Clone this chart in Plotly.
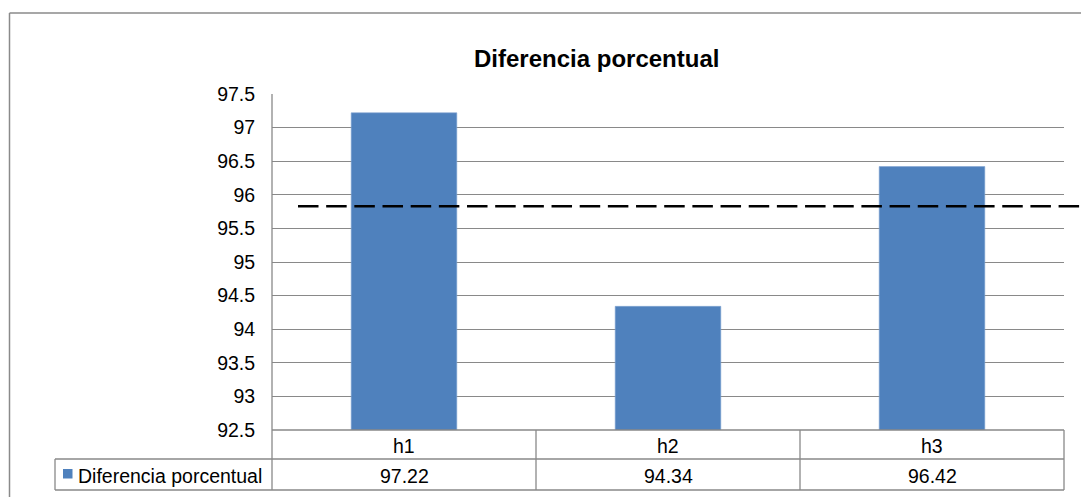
import plotly.graph_objects as go

# --- data ---
categorias = ["h1", "h2", "h3"]
diferencia = [97.22, 94.34, 96.42]
serie = "Diferencia porcentual"
umbral = 95.83
y_ticks = [92.5, 93, 93.5, 94, 94.5, 95, 95.5, 96, 96.5, 97, 97.5]

# --- geometry (pixels in a 1081x497 canvas) ---
W, H = 1081, 497
PL, PR, PT, PB = 272, 1064, 94, 430
ROW1_B, ROW2_B = 459, 490
LEG_L = 55
GRID = "#898989"
BLUE = "#4F81BD"
FONT = "Liberation Sans, Arial, sans-serif"
FS = 19.5


def px(x):
    return (x - PL) / (PR - PL)


def py(y):
    return (PB - y) / (PB - PT)


n = len(categorias)

fig = go.Figure()
fig.add_trace(go.Bar(
    x=list(range(n)), y=diferencia, width=0.4,
    marker=dict(color=BLUE, line=dict(color="#7FA3D1", width=0.6)),
    name=serie, showlegend=False, hoverinfo="x+y",
))

shapes = []


def line(x0, y0, x1, y1, color=GRID, width=1.3):
    shapes.append(dict(type="line", xref="paper", yref="paper",
                       x0=px(x0), y0=py(y0), x1=px(x1), y1=py(y1),
                       line=dict(color=color, width=width), layer="above"))


# outer chart frame (left and top edges)
line(9.5, 13, 9.5, 520, color="#8a8a8a", width=1.5)
line(9.5, 13, 1100, 13, color="#8a8a8a", width=1.5)

# data table below the plot
line(PL, PB, PR, PB)
line(LEG_L, ROW1_B, PR, ROW1_B)
line(LEG_L, ROW2_B, PR, ROW2_B)
line(LEG_L, ROW1_B, LEG_L, ROW2_B)
line(PL, PT, PL, ROW2_B)
for i in range(1, n + 1):
    shapes.append(dict(type="line", xref="paper", yref="paper",
                       x0=i / n, x1=i / n, y0=py(PB), y1=py(ROW2_B),
                       line=dict(color=GRID, width=1.3), layer="above"))

# legend key inside the table
shapes.append(dict(type="rect", xref="paper", yref="paper",
                   x0=px(63), x1=px(72.5), y0=py(469), y1=py(478.5),
                   fillcolor=BLUE, line=dict(width=0), layer="above"))

# dashed reference level
shapes.append(dict(type="line", xref="paper", yref="y",
                   x0=px(298), x1=px(1095), y0=umbral, y1=umbral,
                   line=dict(color="black", width=2.5, dash="20.5px,7.67px"),
                   layer="above"))

annotations = []
for i, (c, v) in enumerate(zip(categorias, diferencia)):
    xc = (i + 0.5) / n
    annotations.append(dict(x=xc, y=py((PB + ROW1_B) / 2 + 1.5), xref="paper", yref="paper",
                            text=c, showarrow=False, xanchor="center", yanchor="middle",
                            font=dict(family=FONT, size=FS, color="black")))
    annotations.append(dict(x=xc, y=py((ROW1_B + ROW2_B) / 2 + 1), xref="paper", yref="paper",
                            text=f"{v:.2f}", showarrow=False, xanchor="center", yanchor="middle",
                            font=dict(family=FONT, size=FS, color="black")))
annotations.append(dict(x=px(76), y=py((ROW1_B + ROW2_B) / 2 + 1), xref="paper", yref="paper",
                        text=serie, showarrow=False, xanchor="left", yanchor="middle",
                        font=dict(family=FONT, size=FS, color="black")))
annotations.append(dict(x=px(596.5), y=py(59), xref="paper", yref="paper",
                        text="<b>Diferencia porcentual</b>", showarrow=False,
                        xanchor="center", yanchor="middle",
                        font=dict(family=FONT, size=24, color="black")))

fig.update_layout(
    width=W, height=H,
    margin=dict(l=PL, r=W - PR, t=PT, b=H - PB, autoexpand=False),
    paper_bgcolor="white", plot_bgcolor="white",
    font=dict(family=FONT, size=FS, color="black"),
    shapes=shapes, annotations=annotations,
    bargap=0.6,
    xaxis=dict(range=[-0.5, n - 0.5], showticklabels=False, showgrid=False,
               zeroline=False, showline=False, ticks="", fixedrange=True),
    yaxis=dict(range=[92.5, 97.5], tickvals=y_ticks,
               ticktext=[f"{t:g}" for t in y_ticks],
               showgrid=True, gridcolor=GRID, gridwidth=1.3,
               zeroline=False, showline=False,
               ticks="outside", ticklen=12, tickcolor="rgba(0,0,0,0)",
               tickfont=dict(family=FONT, size=FS, color="black"),
               fixedrange=True),
)

fig.write_html("out.html")
